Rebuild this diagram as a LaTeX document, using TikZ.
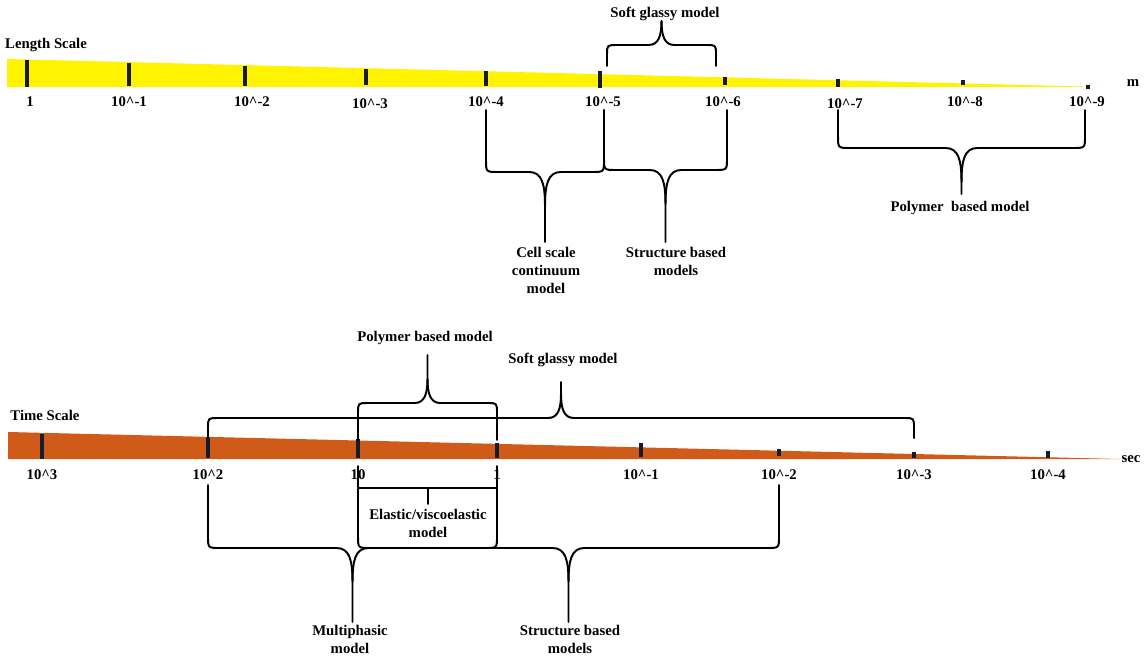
\documentclass[tikz,border=0pt]{standalone}
\usepackage{fontspec}
\setmainfont{Liberation Serif}
\usepackage{xcolor}
\usetikzlibrary{calc}

\definecolor{lengthyellow}{RGB}{255,243,0}
\definecolor{timeorange}{RGB}{208,90,24}
\definecolor{tickblue}{RGB}{22,28,48}

\tikzset{
	lbl/.style = {font=\fontsize{10.5}{12.8}\selectfont\bfseries, inner sep=1pt, align=center},
	brace line/.style = {line width=1.4pt, line join=round, line cap=round},
	tickmark/.style = {draw=tickblue, line width=3pt},
}

\newcommand{\pw}[1]{10\textasciicircum#1}

%brace opening upwards: left x, right x, leg top y, bar y, tip y
\newcommand{\bracedn}[5]{%
	\pgfmathsetmacro\bm{(#1+#2)/2}
	\draw [brace line] (#1,#3) -- (#1,#4-12) .. controls (#1,#4) .. (#1+12,#4) -- (\bm-16,#4) .. controls (\bm-3,#4) and (\bm,#4+12) .. (\bm,#4+34) -- (\bm,#5);
	\draw [brace line] (#2,#3) -- (#2,#4-12) .. controls (#2,#4) .. (#2-12,#4) -- (\bm+16,#4) .. controls (\bm+3,#4) and (\bm,#4+12) .. (\bm,#4+34);
}
%brace opening downwards: left x, right x, leg bottom y, bar y, tip y
\newcommand{\braceup}[5]{%
	\pgfmathsetmacro\bm{(#1+#2)/2}
	\draw [brace line] (#1,#3) -- (#1,#4+10) .. controls (#1,#4) .. (#1+10,#4) -- (\bm-13,#4) .. controls (\bm-3,#4) and (\bm,#4-9) .. (\bm,#4-24) -- (\bm,#5);
	\draw [brace line] (#2,#3) -- (#2,#4+10) .. controls (#2,#4) .. (#2-10,#4) -- (\bm+13,#4) .. controls (\bm+3,#4) and (\bm,#4-9) .. (\bm,#4-24);
}

\begin{document}
\begin{tikzpicture}[x=0.025cm, y=-0.025cm]
		\useasboundingbox (0,0) rectangle (1144,657);
		
		%length scale bar
		\fill [lengthyellow] (7,59) -- (1102,87) -- (7,87) -- cycle;
		\node [lbl] (lenname) at (46,45) {Length Scale};
		\node [lbl] (lenunit) at (1133,83) {m};
		
		%length ticks
		\draw [tickmark] (27,60) -- (27,87);
		\draw [tickmark] (129,63) -- (129,86);
		\draw [tickmark] (245,66) -- (245,86);
		\draw [tickmark] (366,69) -- (366,85);
		\draw [tickmark] (486,71) -- (486,86);
		\draw [tickmark] (600,71) -- (600,88);
		\draw [tickmark] (725,77) -- (725,85);
		\draw [tickmark] (838,79) -- (838,87);
		\draw [tickmark] (963,80) -- (963,85);
		\draw [tickmark] (1088,85) -- (1088,89);
		
		%length labels
		\node [lbl] (l0) at (30,102) {1};
		\node [lbl] (l1) at (129,102) {\pw{-1}};
		\node [lbl] (l2) at (252,102) {\pw{-2}};
		\node [lbl] (l3) at (370,104) {\pw{-3}};
		\node [lbl] (l4) at (486,102) {\pw{-4}};
		\node [lbl] (l5) at (603,102) {\pw{-5}};
		\node [lbl] (l6) at (723,102) {\pw{-6}};
		\node [lbl] (l7) at (845,104) {\pw{-7}};
		\node [lbl] (l8) at (965,102) {\pw{-8}};
		\node [lbl] (l9) at (1087,102) {\pw{-9}};
		
		%length models
		\braceup{607}{716}{66}{45}{22}
		\node [lbl] (lsoft) at (665,14) {Soft glassy model};
		
		\bracedn{486}{604}{110}{172}{242}
		\node [lbl, anchor=north] (lcell) at (546,246) {Cell scale\\continuum\\model};
		
		\bracedn{604}{727}{110}{170}{242}
		\node [lbl, anchor=north] (lstruct) at (676,246) {Structure based\\models};
		
		\bracedn{838}{1085}{110}{148}{194}
		\node [lbl] (lpoly) at (960,208) {Polymer~ based model};
		
		%time scale bar
		\fill [timeorange] (8,432) -- (1120,459) -- (8,459) -- cycle;
		\node [lbl] (timename) at (45,415) {Time Scale};
		\node [lbl] (timeunit) at (1131,459) {sec};
		
		%time ticks
		\draw [tickmark] (42,434) -- (42,459);
		\draw [tickmark] (208,437) -- (208,458);
		\draw [tickmark] (358,439) -- (358,458);
		\draw [tickmark] (497,443) -- (497,458);
		\draw [tickmark] (641,443) -- (641,457);
		\draw [tickmark] (779,449) -- (779,456);
		\draw [tickmark] (914,452) -- (914,458);
		\draw [tickmark] (1048,451) -- (1048,458);
		
		%time labels
		\node [lbl] (t3) at (42,475) {\pw{3}};
		\node [lbl] (t2) at (208,475) {\pw{2}};
		\node [lbl] (t1) at (358,475) {10};
		\node [lbl] (t0) at (497,475) {1};
		\node [lbl] (tm1) at (641,475) {\pw{-1}};
		\node [lbl] (tm2) at (779,475) {\pw{-2}};
		\node [lbl] (tm3) at (914,475) {\pw{-3}};
		\node [lbl] (tm4) at (1048,475) {\pw{-4}};
		
		%time models
		\braceup{208}{914}{438}{418}{382}
		\node [lbl] (tsoft) at (563,360) {Soft glassy model};
		
		\braceup{358}{497}{440}{403}{355}
		\node [lbl] (tpoly) at (425,338) {Polymer based model};
		
		\bracedn{208}{497}{485}{548}{622}
		\node [lbl, anchor=north] (tmulti) at (350,624) {Multiphasic\\model};
		
		\bracedn{358}{779}{485}{548}{622}
		\node [lbl, anchor=north] (tstruct) at (570,624) {Structure based\\models};
		
		%elastic bracket
		\draw [brace line] (358,466) -- (358,488) -- (497,488) -- (497,466);
		\draw [brace line] (428,488) -- (428,504);
		\node [lbl, anchor=north] (telastic) at (428,508) {Elastic/viscoelastic\\model};

	\end{tikzpicture}
\end{document}
